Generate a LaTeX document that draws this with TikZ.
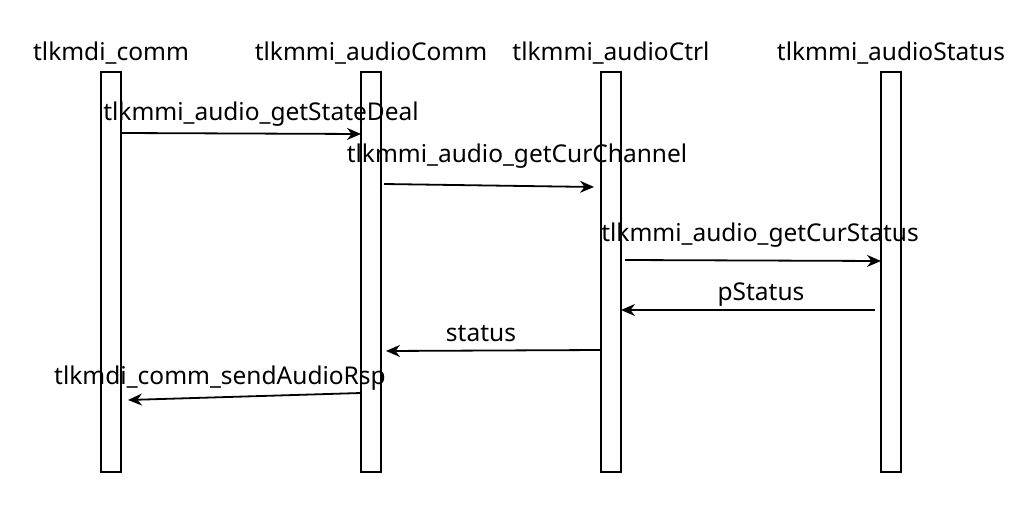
\documentclass[tikz,border=0pt]{standalone}
\usepackage{fontspec}
\setmainfont{Noto Sans}
\usetikzlibrary{arrows.meta}
\begin{document}
\begin{tikzpicture}[x=1pt,y=-1pt,
  bar/.style={draw,line width=1.8pt,minimum width=20pt,minimum height=400pt,inner sep=0pt},
  ttl/.style={font=\fontsize{24.5}{28}\selectfont,inner sep=0pt},
  lbl/.style={font=\fontsize{24.5}{28}\selectfont,inner sep=0pt},
  msg/.style={line width=1.8pt,-{Stealth[length=14pt,width=12pt]}}]
\useasboundingbox (0,0) rectangle (1036,516);
\node[bar] (b1) at (111,272) {};
\node[bar] (b2) at (371,272) {};
\node[bar] (b3) at (611,272) {};
\node[bar] (b4) at (891,272) {};
\node[ttl] (t1) at (111,53) {tlkmdi\_comm};
\node[ttl] (t2) at (371,53) {tlkmmi\_audioComm};
\node[ttl] (t3) at (611,53) {tlkmmi\_audioCtrl};
\node[ttl] (t4) at (891,53) {tlkmmi\_audioStatus};
\coordinate (a1s) at (121,133); \coordinate (a1e) at (361,134);
\coordinate (a2s) at (384,184); \coordinate (a2e) at (594,187);
\coordinate (a3s) at (625,260); \coordinate (a3e) at (881,261);
\coordinate (a4s) at (875,310); \coordinate (a4e) at (621,310);
\coordinate (a5s) at (601,350); \coordinate (a5e) at (386,351);
\coordinate (a6s) at (361,393); \coordinate (a6e) at (128,400);
\draw[msg] (a1s) -- (a1e);
\draw[msg] (a2s) -- (a2e);
\draw[msg] (a3s) -- (a3e);
\draw[msg] (a4s) -- (a4e);
\draw[msg] (a5s) -- (a5e);
\draw[msg] (a6s) -- (a6e);
\node[lbl] (l1) at (261,114) {tlkmmi\_audio\_getStateDeal};
\node[lbl] (l2) at (517,156) {tlkmmi\_audio\_getCurChannel};
\node[lbl] (l3) at (760,235) {tlkmmi\_audio\_getCurStatus};
\node[lbl] (l4) at (761,295) {pStatus};
\node[lbl] (l5) at (481,334) {status};
\node[lbl] (l6) at (220,378) {tlkmdi\_comm\_sendAudioRsp};
\end{tikzpicture}
\end{document}
